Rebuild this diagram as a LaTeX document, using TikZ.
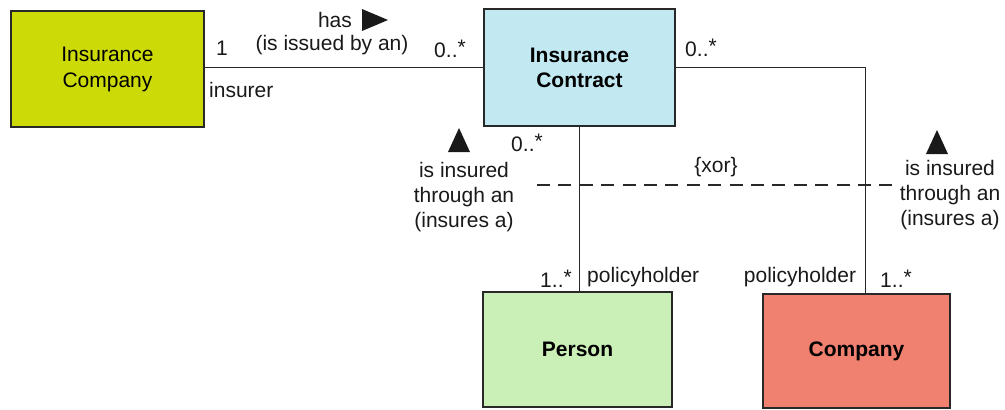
\documentclass[tikz,border=0pt]{standalone}
\usepackage{fontspec}
\setmainfont{Liberation Sans}
\usetikzlibrary{calc}

\definecolor{icyellow}{RGB}{204,218,8}
\definecolor{ctblue}{RGB}{194,232,242}
\definecolor{pgreen}{RGB}{202,240,184}
\definecolor{csalmon}{RGB}{240,128,112}
\definecolor{edge}{RGB}{40,40,40}

\tikzset{
  classbox/.style={draw=edge, line width=1.6pt, align=center, inner sep=0pt,
    font=\fontsize{21}{26}\selectfont},
  lbl/.style={inner sep=0pt, font=\fontsize{21}{25}\selectfont, text=black!90},
  assoc/.style={draw=edge, line width=1pt},
  xorline/.style={draw=edge, line width=1.2pt, dash pattern=on 13pt off 8.4pt},
  dirmark/.style={fill=black!90}
}
\newcommand{\mult}[1]{#1\raisebox{2.5pt}{*}}

\begin{document}
\begin{tikzpicture}[x=1pt,y=-1pt]
  \useasboundingbox (0,0) rectangle (1005,410);

  % classes
  \node[classbox, fill=icyellow, minimum width=193pt, minimum height=116pt]
    (ic) at (107.5,69) {Insurance\\Company};
  \node[classbox, fill=ctblue, minimum width=191pt, minimum height=117pt,
    font=\fontsize{21}{25}\selectfont\bfseries]
    (contract) at (579.5,67.5) {Insurance\\Contract};
  \node[classbox, fill=pgreen, minimum width=189pt, minimum height=115pt,
    font=\fontsize{21}{25}\selectfont\bfseries]
    (person) at (577.5,349.5) {Person};
  \node[classbox, fill=csalmon, minimum width=187pt, minimum height=114pt,
    font=\fontsize{21}{25}\selectfont\bfseries]
    (company) at (856.5,351) {Company};

  \coordinate (cobend) at (865,67.5);
  \coordinate (cotop) at (865,294);

  % associations
  \draw[assoc] (contract.west) -- (contract.west -| ic.east);
  \draw[assoc] (contract.south) -- (contract.south |- person.north);
  \draw[assoc] (contract.east) -- (cobend) -- (cotop);

  % xor constraint
  \coordinate (xl) at (537,185);
  \coordinate (xr) at (892,185);
  \draw[xorline] (xl) -- (xr);
  \node[lbl] (xor) at (716,167) {\{xor\}};

  % insurer association labels
  \node[lbl] (has) at (335,20) {has};
  \fill[dirmark] (362,9) -- (388,20) -- (362,31) -- cycle;
  \node[lbl] (issued) at (332,45) {(is issued by an)};
  \node[lbl] (m1) at (222,48) {1};
  \node[lbl] (m2) at (450,49) {\mult{0..}};
  \node[lbl, anchor=west] (insurer) at (209,90) {insurer};

  % person association labels
  \fill[dirmark] (448,152) -- (459,128) -- (470,152) -- cycle;
  \node[lbl] (m3) at (527,143) {\mult{0..}};
  \node[lbl, align=center] (pl) at (464,197) {is insured\\through an\\(insures a)};
  \node[lbl] (m4) at (556,279) {\mult{1..}};
  \node[lbl, anchor=west] (ph1) at (587,277) {policyholder};

  % company association labels
  \node[lbl] (m5) at (701,48) {\mult{0..}};
  \fill[dirmark] (926,154) -- (937,130) -- (948,154) -- cycle;
  \node[lbl, align=center] (cl) at (950,195) {is insured\\through an\\(insures a)};
  \node[lbl] (ph2) at (800,277) {policyholder};
  \node[lbl] (m6) at (896,279) {\mult{1..}};
\end{tikzpicture}
\end{document}
